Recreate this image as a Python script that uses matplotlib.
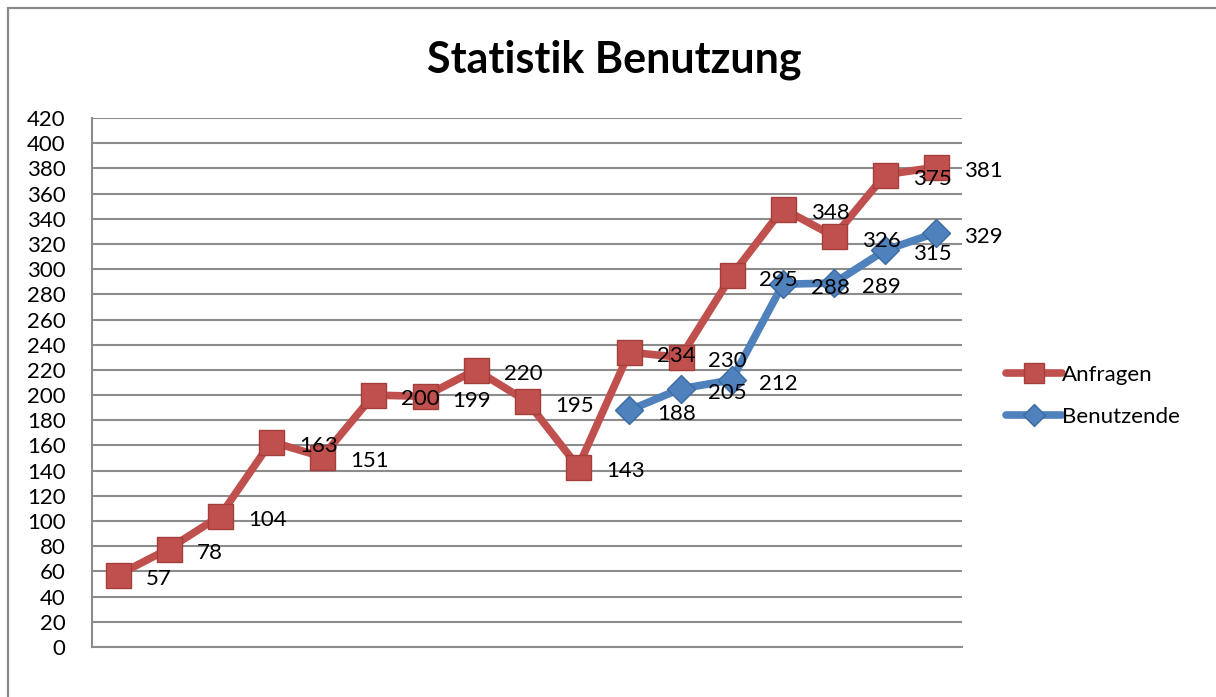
import numpy as np
import matplotlib
matplotlib.use("Agg")
import matplotlib.pyplot as plt
from matplotlib.patches import Rectangle

# ------------------------------------------------------------------------------
# DATA
anfragen = [57, 78, 104, 163, 151, 200, 199, 220, 195, 143, 234, 230, 295, 348, 326, 375, 381]
benutzende = [188, 205, 212, 288, 289, 315, 329]
benutzende_start = 10
y_ticks = list(range(0, 421, 20))
title = "Statistik Benutzung"
series_names = ["Anfragen", "Benutzende"]

# ------------------------------------------------------------------------------
# STYLE
plt.rcParams['font.family'] = ['Lato', 'DejaVu Sans']
red = '#C0504D'
red_edge = '#A33E3B'
blue = '#4F81BD'
blue_edge = '#3C6AA3'
grid_col = '#8C8C8C'

fig = plt.figure(figsize=(12.16, 6.97), dpi=100)
ax = fig.add_axes([92 / 1216, 1 - 647 / 697, (962 - 92) / 1216, (647 - 118) / 697])

# outer frame of the chart area (Excel style)
fig.patches.append(Rectangle((8 / 1216, -0.2), 1.2, 1.2 - 8 / 697,
                             transform=fig.transFigure, fill=False,
                             edgecolor='#8A8A8A', linewidth=1.6))

x_red = np.arange(len(anfragen))
x_blue = np.arange(benutzende_start, benutzende_start + len(benutzende))

ax.plot(x_red, anfragen, color=red, linewidth=5.5, solid_joinstyle='round',
        solid_capstyle='round', marker='s', markersize=18,
        markerfacecolor=red, markeredgecolor=red_edge, markeredgewidth=1,
        label=series_names[0], zorder=3)
ax.plot(x_blue, benutzende, color=blue, linewidth=5.5, solid_joinstyle='round',
        solid_capstyle='round', marker='D', markersize=14,
        markerfacecolor=blue, markeredgecolor=blue_edge, markeredgewidth=1,
        label=series_names[1], zorder=4)

# data labels right of the points
for xs, ys in ((x_red, anfragen), (x_blue, benutzende)):
    for x, y in zip(xs, ys):
        ax.annotate(str(y), xy=(x, y), xytext=(20, -3), textcoords='offset points',
                    ha='left', va='center', fontsize=16, color='black', zorder=5)

ax.set_xlim(-0.5, len(anfragen) - 0.5)
ax.set_ylim(0, 420)
ax.set_yticks(y_ticks)
ax.set_xticks([])
ax.tick_params(axis='y', length=0, pad=19, labelsize=16)
ax.yaxis.grid(True, color=grid_col, linewidth=1.5)
ax.set_axisbelow(True)
for side in ('top', 'right'):
    ax.spines[side].set_visible(False)
for side in ('left', 'bottom'):
    ax.spines[side].set_color(grid_col)
    ax.spines[side].set_linewidth(1.5)

fig.text(0.505, 0.914, title, ha='center', va='center', fontsize=31, fontweight='bold')

fig.legend(loc='center left', bbox_to_anchor=(986 / 1216, 1 - 396 / 697),
           frameon=False, fontsize=16, handlelength=2.5, handletextpad=0.0,
           labelspacing=1.0, markerscale=0.8)

fig.savefig('out.png', dpi=100)
